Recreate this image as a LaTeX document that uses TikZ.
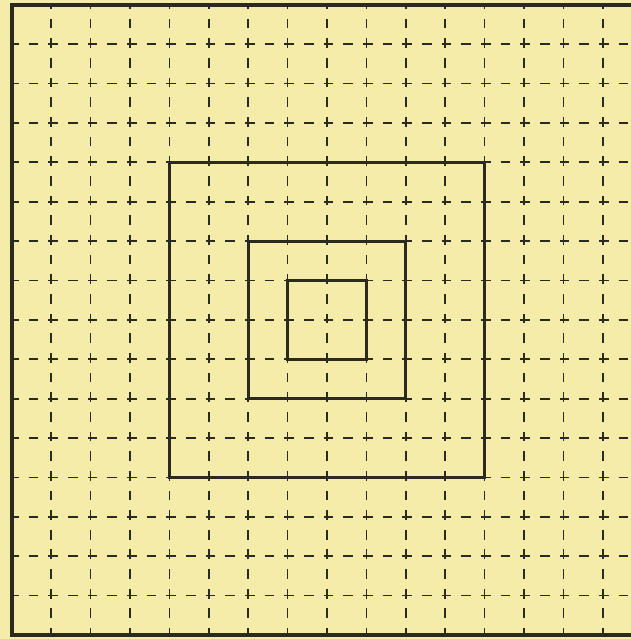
\documentclass[tikz,border=0pt]{standalone}
\usepackage{xcolor}
\definecolor{Paper}{HTML}{F6ECA9}
\definecolor{Ink}{HTML}{2B2A1E}
\begin{document}
\begin{tikzpicture}[
    gridline/.style={draw=Ink, line width=1.2pt, dash pattern=on 7pt off 7.2pt, dash phase=2pt},
    frame/.style={draw=Ink, line width=2.8pt},
    square/.style={draw=Ink, line width=2.3pt, line join=miter}
  ]
  \clip (-0.3,-0.1) rectangle (15.715,16.12);
  \fill[Paper] (-0.3,-0.1) rectangle (15.715,16.12);
  % dashed ruling
  \foreach \k in {1,...,15} {
    \draw[gridline] (\k,0) -- (\k,16);
    \draw[gridline] (0,\k) -- (16,\k);
  }
  \draw[frame] (0,0) rectangle (16,16);
  % nested squares
  \draw[square] (4,4) rectangle (12,12);
  \draw[square] (6,6) rectangle (10,10);
  \draw[square] (7,7) rectangle (9,9);
\end{tikzpicture}
\end{document}
